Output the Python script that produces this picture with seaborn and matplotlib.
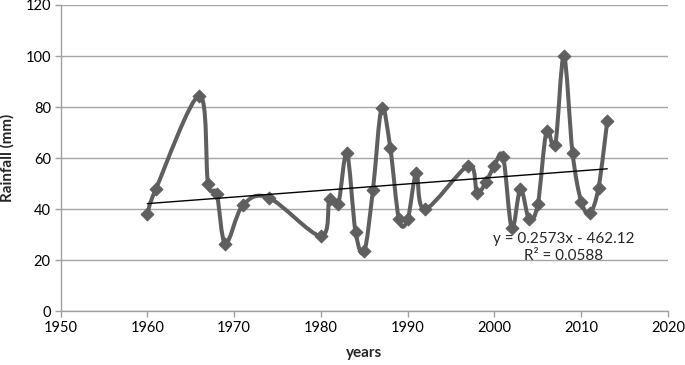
import numpy as np
import pandas as pd
import matplotlib
matplotlib.use("Agg")
import matplotlib.pyplot as plt
from matplotlib.path import Path
from matplotlib.patches import PathPatch
import seaborn as sns

# Annual rainfall readings
years = [1960, 1961, 1966, 1967, 1968, 1969, 1971, 1974, 1980, 1981,
         1982, 1983, 1984, 1985, 1986, 1987, 1988, 1989, 1990, 1991,
         1992, 1997, 1998, 1999, 2000, 2001, 2002, 2003, 2004, 2005,
         2006, 2007, 2008, 2009, 2010, 2011, 2012, 2013]
rainfall = [38, 48, 84.5, 50, 46, 26.5, 41.5, 44.5, 29.5, 44,
            42, 62, 31, 23.5, 47.5, 79.5, 64, 36, 36, 54,
            40, 57, 46.5, 50.5, 57, 60.5, 32.5, 48, 36, 42,
            70.5, 65, 100, 62, 43, 38.5, 48.5, 74.5]

# Linear trend shown on the chart
slope = 0.2573
intercept = -462.12
r_squared = 0.0588

df = pd.DataFrame({"year": years, "rain": rainfall})
trend = pd.DataFrame({"year": [min(years), max(years)]})
trend["rain"] = slope * trend["year"] + intercept

sns.set_style("white")
plt.rcParams["font.family"] = ["Lato", "DejaVu Sans"]

fig = plt.figure(figsize=(6.85, 3.65), dpi=100)
ax = fig.add_axes([60.5 / 685, 1 - 311.3 / 365, (668 - 60.5) / 685, (311.3 - 5) / 365])

line_col = "#5f5f5f"

# smoothed line (Excel-style curve through the points)
pts = df[["year", "rain"]].to_numpy(dtype=float)
ext = np.vstack([pts[0], pts, pts[-1]])
verts = [pts[0]]
codes = [Path.MOVETO]
for i in range(len(pts) - 1):
    p0, p1, p2, p3 = ext[i], ext[i + 1], ext[i + 2], ext[i + 3]
    verts += [p1 + (p2 - p0) / 6, p2 - (p3 - p1) / 6, p2]
    codes += [Path.CURVE4] * 3
ax.add_patch(PathPatch(Path(verts, codes), facecolor="none", edgecolor=line_col,
                       lw=2.9, capstyle="round", joinstyle="round", zorder=2))

sns.scatterplot(data=df, x="year", y="rain", marker="D", s=42, color=line_col,
                edgecolor=line_col, linewidth=0.8, ax=ax, zorder=3)
sns.lineplot(data=trend, x="year", y="rain", color="black", lw=1, ax=ax, zorder=4)

ax.text(2008, 28.5, f"y = {slope}x - {abs(intercept)}", ha="center", va="center", fontsize=11)
ax.text(2008, 21.6, f"R² = {r_squared}", ha="center", va="center", fontsize=11)

ax.set_xlim(1950, 2020)
ax.set_ylim(0, 120)
ax.set_xticks(range(1950, 2021, 10))
ax.set_yticks(range(0, 121, 20))
ax.yaxis.grid(True, color="#a6a6a6", lw=1)
ax.set_axisbelow(True)
for s in ["top", "right"]:
    ax.spines[s].set_visible(False)
for s in ["left", "bottom"]:
    ax.spines[s].set_color("#a0a0a0")
    ax.spines[s].set_linewidth(1)
ax.tick_params(axis="both", direction="out", length=4, width=1, color="#a0a0a0",
               labelsize=10.5, labelcolor="black", pad=3)
ax.tick_params(axis="x", bottom=True)
ax.tick_params(axis="y", left=True)

ax.set_xlabel("years", fontsize=11, fontweight="bold")
ax.set_ylabel("Rainfall (mm)", fontsize=11, fontweight="bold")
ax.yaxis.set_label_coords(-46 / 607.5, 0.5)
ax.xaxis.set_label_coords(0.5, -35 / 306.3)

fig.savefig("out.png", dpi=100)
